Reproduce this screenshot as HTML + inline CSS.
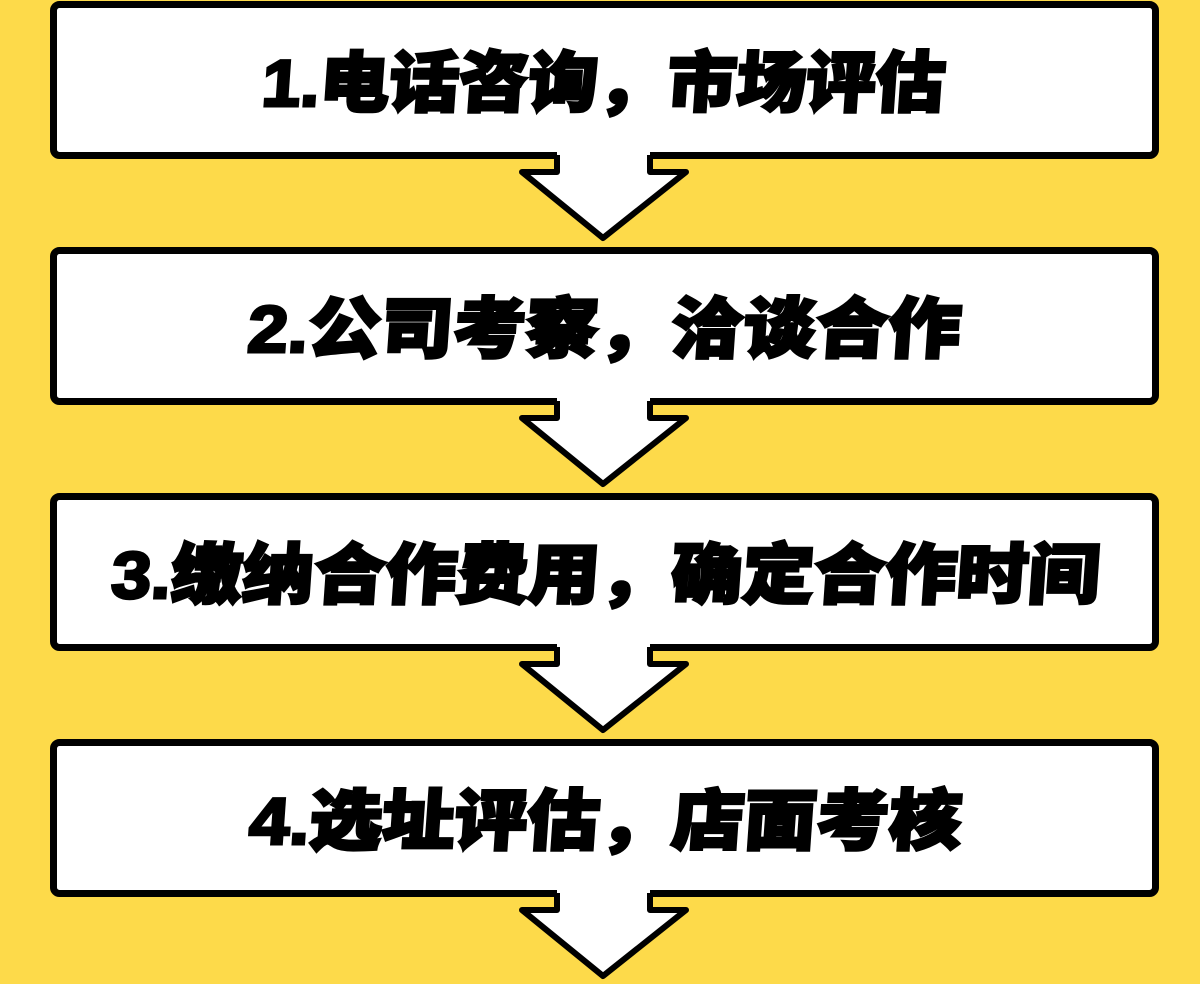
<!DOCTYPE html>
<html><head><meta charset="utf-8"><style>
html,body{margin:0;padding:0;background:#FDDA4A;}
svg{display:block}
text{font-family:"Liberation Sans","Noto Sans CJK SC",sans-serif;font-weight:900;font-size:66px;fill:#000;stroke:#000;stroke-width:3}
</style></head><body>
<svg width="1200" height="984" viewBox="0 0 1200 984" xmlns="http://www.w3.org/2000/svg">
<rect width="1200" height="984" fill="#FDDA4A"/>
<g id="b">
<rect x="53.5" y="4.5" width="1102" height="151" rx="6" fill="#fff" stroke="#000" stroke-width="7"/>
<polygon points="557,150 557,172 522,172 603,238 686,172 650,172 650,150" fill="#fff"/>
<polyline points="557,155 557,172 522,172 603,238 686,172 650,172 650,155" fill="none" stroke="#000" stroke-width="6" stroke-linejoin="round"/>
</g>
<use href="#b" y="246"/>
<use href="#b" y="492"/>
<use href="#b" y="738"/>
<g transform="skewX(-4)">
<text x="268" y="106" textLength="683" lengthAdjust="spacingAndGlyphs">1.电话咨询，市场评估</text>
<text x="271" y="352" textLength="713" lengthAdjust="spacingAndGlyphs">2.公司考察，洽谈合作</text>
<text x="152" y="598" textLength="988" lengthAdjust="spacingAndGlyphs">3.缴纳合作费用，确定合作时间</text>
<text x="307" y="844" textLength="712" lengthAdjust="spacingAndGlyphs">4.选址评估，店面考核</text>
</g>
</svg>
</body></html>
